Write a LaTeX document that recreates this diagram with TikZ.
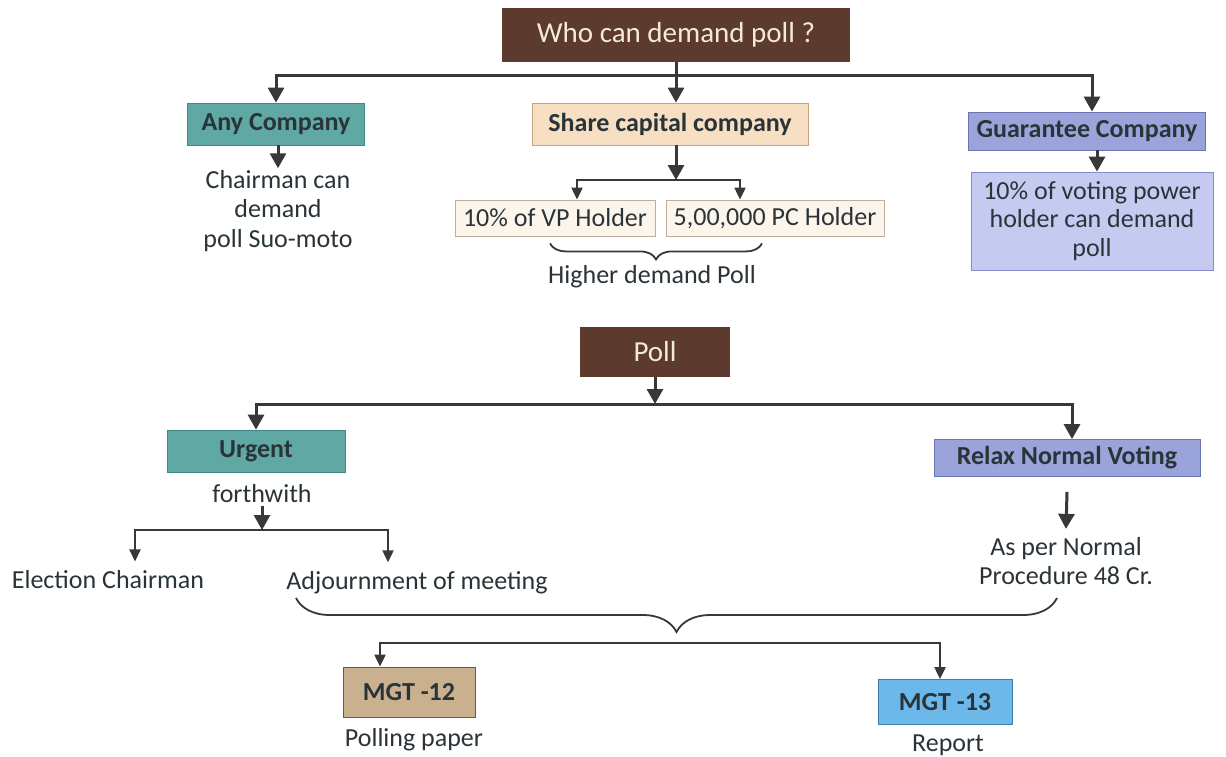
\documentclass[tikz,border=0pt]{standalone}
\usepackage{fontspec}
\setmainfont{Carlito}
\usetikzlibrary{arrows.meta,calc,decorations.pathreplacing}

\definecolor{brownbox}{HTML}{5C3A2E}
\definecolor{creamtext}{HTML}{F4EADB}
\definecolor{tealbox}{HTML}{5FA8A3}
\definecolor{tealedge}{HTML}{3F8A84}
\definecolor{peachbox}{HTML}{F6DFC3}
\definecolor{peachedge}{HTML}{C4A583}
\definecolor{creambox}{HTML}{FCF5EC}
\definecolor{creamedge}{HTML}{BFAE9C}
\definecolor{lavbox}{HTML}{9AA3DA}
\definecolor{lavedge}{HTML}{6C75B3}
\definecolor{lightlav}{HTML}{C6CAF1}
\definecolor{lightlavedge}{HTML}{858DC9}
\definecolor{tanbox}{HTML}{C9B08F}
\definecolor{tanedge}{HTML}{6B5A45}
\definecolor{bluebox}{HTML}{6CB8EA}
\definecolor{blueedge}{HTML}{3D7EA8}
\definecolor{ink}{HTML}{2A3438}
\definecolor{wire}{HTML}{383838}

\tikzset{
  box/.style={draw, rectangle, inner sep=2pt, text=ink, font=\fontsize{13}{14.5}\selectfont\bfseries},
  headbox/.style={rectangle, fill=brownbox, text=creamtext, font=\fontsize{14.5}{16}\selectfont},
  plain/.style={text=ink, align=center, inner sep=1pt, font=\fontsize{13}{14.6}\selectfont},
  thickarrow/.style={draw=wire, line width=1.5pt, -{Triangle[width=8pt,length=7.5pt]}},
  thinarrow/.style={draw=wire, line width=1pt, -{Triangle[width=5.5pt,length=6pt]}},
  bracebelow/.style={draw=wire, line width=0.9pt, decorate, decoration={brace, mirror, amplitude=#1}}
}

\begin{document}
\begin{tikzpicture}[x=0.5pt, y=-0.5pt]
  \useasboundingbox[fill=white] (0,0) rectangle (1226,756);

  % ---- who can demand a poll ----
  \node[headbox, minimum width=174pt, minimum height=27pt] (title) at (676,35) {Who can demand poll ?};

  \node[box, fill=tealbox, draw=tealedge, minimum width=88.5pt, minimum height=21pt] (any) at (276,124) {Any Company};
  \node[box, fill=peachbox, draw=peachedge, minimum width=138pt, minimum height=21pt] (share) at (670,124) {Share capital company};
  \node[box, fill=lavbox, draw=lavedge, minimum width=118.5pt, minimum height=19pt] (guar) at (1087,131) {Guarantee Company};

  \node[plain] (chair) at (278,211) {Chairman can\\demand\\poll Suo-moto};

  \node[draw=creamedge, fill=creambox, text=ink, font=\fontsize{13}{14.5}\selectfont, minimum width=100pt, minimum height=18pt, inner sep=1pt] (vp) at (555,218) {10\% of VP Holder};
  \node[draw=creamedge, fill=creambox, text=ink, font=\fontsize{13}{14.5}\selectfont, minimum width=109pt, minimum height=18pt, inner sep=1pt] (pc) at (775,218) {5,00,000 PC Holder};
  \node[plain] (higher) at (652,277) {Higher demand Poll};

  \node[draw=lightlavedge, fill=lightlav, text=ink, align=center, font=\fontsize{13}{14.3}\selectfont, minimum width=121pt, minimum height=49pt, inner sep=1pt] (guartext) at (1092,221) {10\% of voting power\\holder can demand\\poll};

  \coordinate (topbus) at (676,75);
  \draw[thickarrow] (title.south) -- (topbus |- share.north);
  \draw[thickarrow] (topbus) -| (any.north);
  \draw[thickarrow] (topbus) -| ($(guar.north)+(5,0)$);
  \draw[thickarrow] (any.south -| chair.north) -- (chair.north);
  \draw[thickarrow] ($(guar.south)+(10,0)$) -- ($(guartext.north)+(5,0)$);

  \coordinate (sharebus) at (676,180);
  \draw[thickarrow] (share.south -| sharebus) -- (sharebus);
  \draw[thinarrow] (sharebus) -| ($(vp.north)+(22,0)$);
  \draw[thinarrow] (sharebus) -| ($(pc.north)+(-35,0)$);
  \draw[bracebelow=8pt] ($(vp.south)+(-5,7)$) -- ($(pc.south)+(-13,7)$);

  % ---- poll ----
  \node[headbox, minimum width=75pt, minimum height=25pt] (poll) at (655,352) {Poll};

  \node[box, fill=tealbox, draw=tealedge, minimum width=89pt, minimum height=21pt] (urgent) at (256,451) {Urgent};
  \node[box, fill=lavbox, draw=lavedge, minimum width=133pt, minimum height=18.5pt] (relax) at (1067,458) {Relax Normal Voting};

  \coordinate (pollbus) at (655,404);
  \draw[thickarrow] (poll.south) -- (pollbus);
  \draw[thickarrow] (pollbus) -| (urgent.north);
  \draw[thickarrow] (pollbus) -| ($(relax.north)+(5,0)$);

  \node[plain] (forth) at (262,494) {forthwith};
  \node[plain] (elect) at (108,580) {Election Chairman};
  \node[plain] (adjourn) at (417,583) {Adjournment of meeting};

  \coordinate (urgbus) at (262,530);
  \draw[thickarrow] (forth.south) -- (urgbus);
  \draw[thinarrow] (urgbus) -| ($(elect.north)+(27,-7)$);
  \draw[thinarrow] (urgbus) -| ($(adjourn.north)+(-29,-7)$);

  \node[plain] (normal) at (1066,561) {As per Normal\\Procedure 48 Cr.};
  \draw[thickarrow] ($(relax.south)+(0,15)$) -- ($(normal.north)+(0,-6)$);

  % ---- forms ----
  \draw[bracebelow=17pt] (296,598) -- (1057,598);

  \node[box, fill=tanbox, draw=tanedge, minimum width=66pt, minimum height=25pt] (mgt12) at (409,692) {MGT -12};
  \node[box, fill=bluebox, draw=blueedge, minimum width=67pt, minimum height=22.5pt] (mgt13) at (945,702) {MGT -13};
  \node[plain] (polling) at (414,740) {Polling paper};
  \node[plain] (report) at (948,745) {Report};

  \coordinate (formbus) at (676,643);
  \draw[thinarrow] (formbus) -| ($(mgt12.north)+(-29,0)$);
  \draw[thinarrow] (formbus) -| ($(mgt13.north)+(-5,0)$);
\end{tikzpicture}
\end{document}
